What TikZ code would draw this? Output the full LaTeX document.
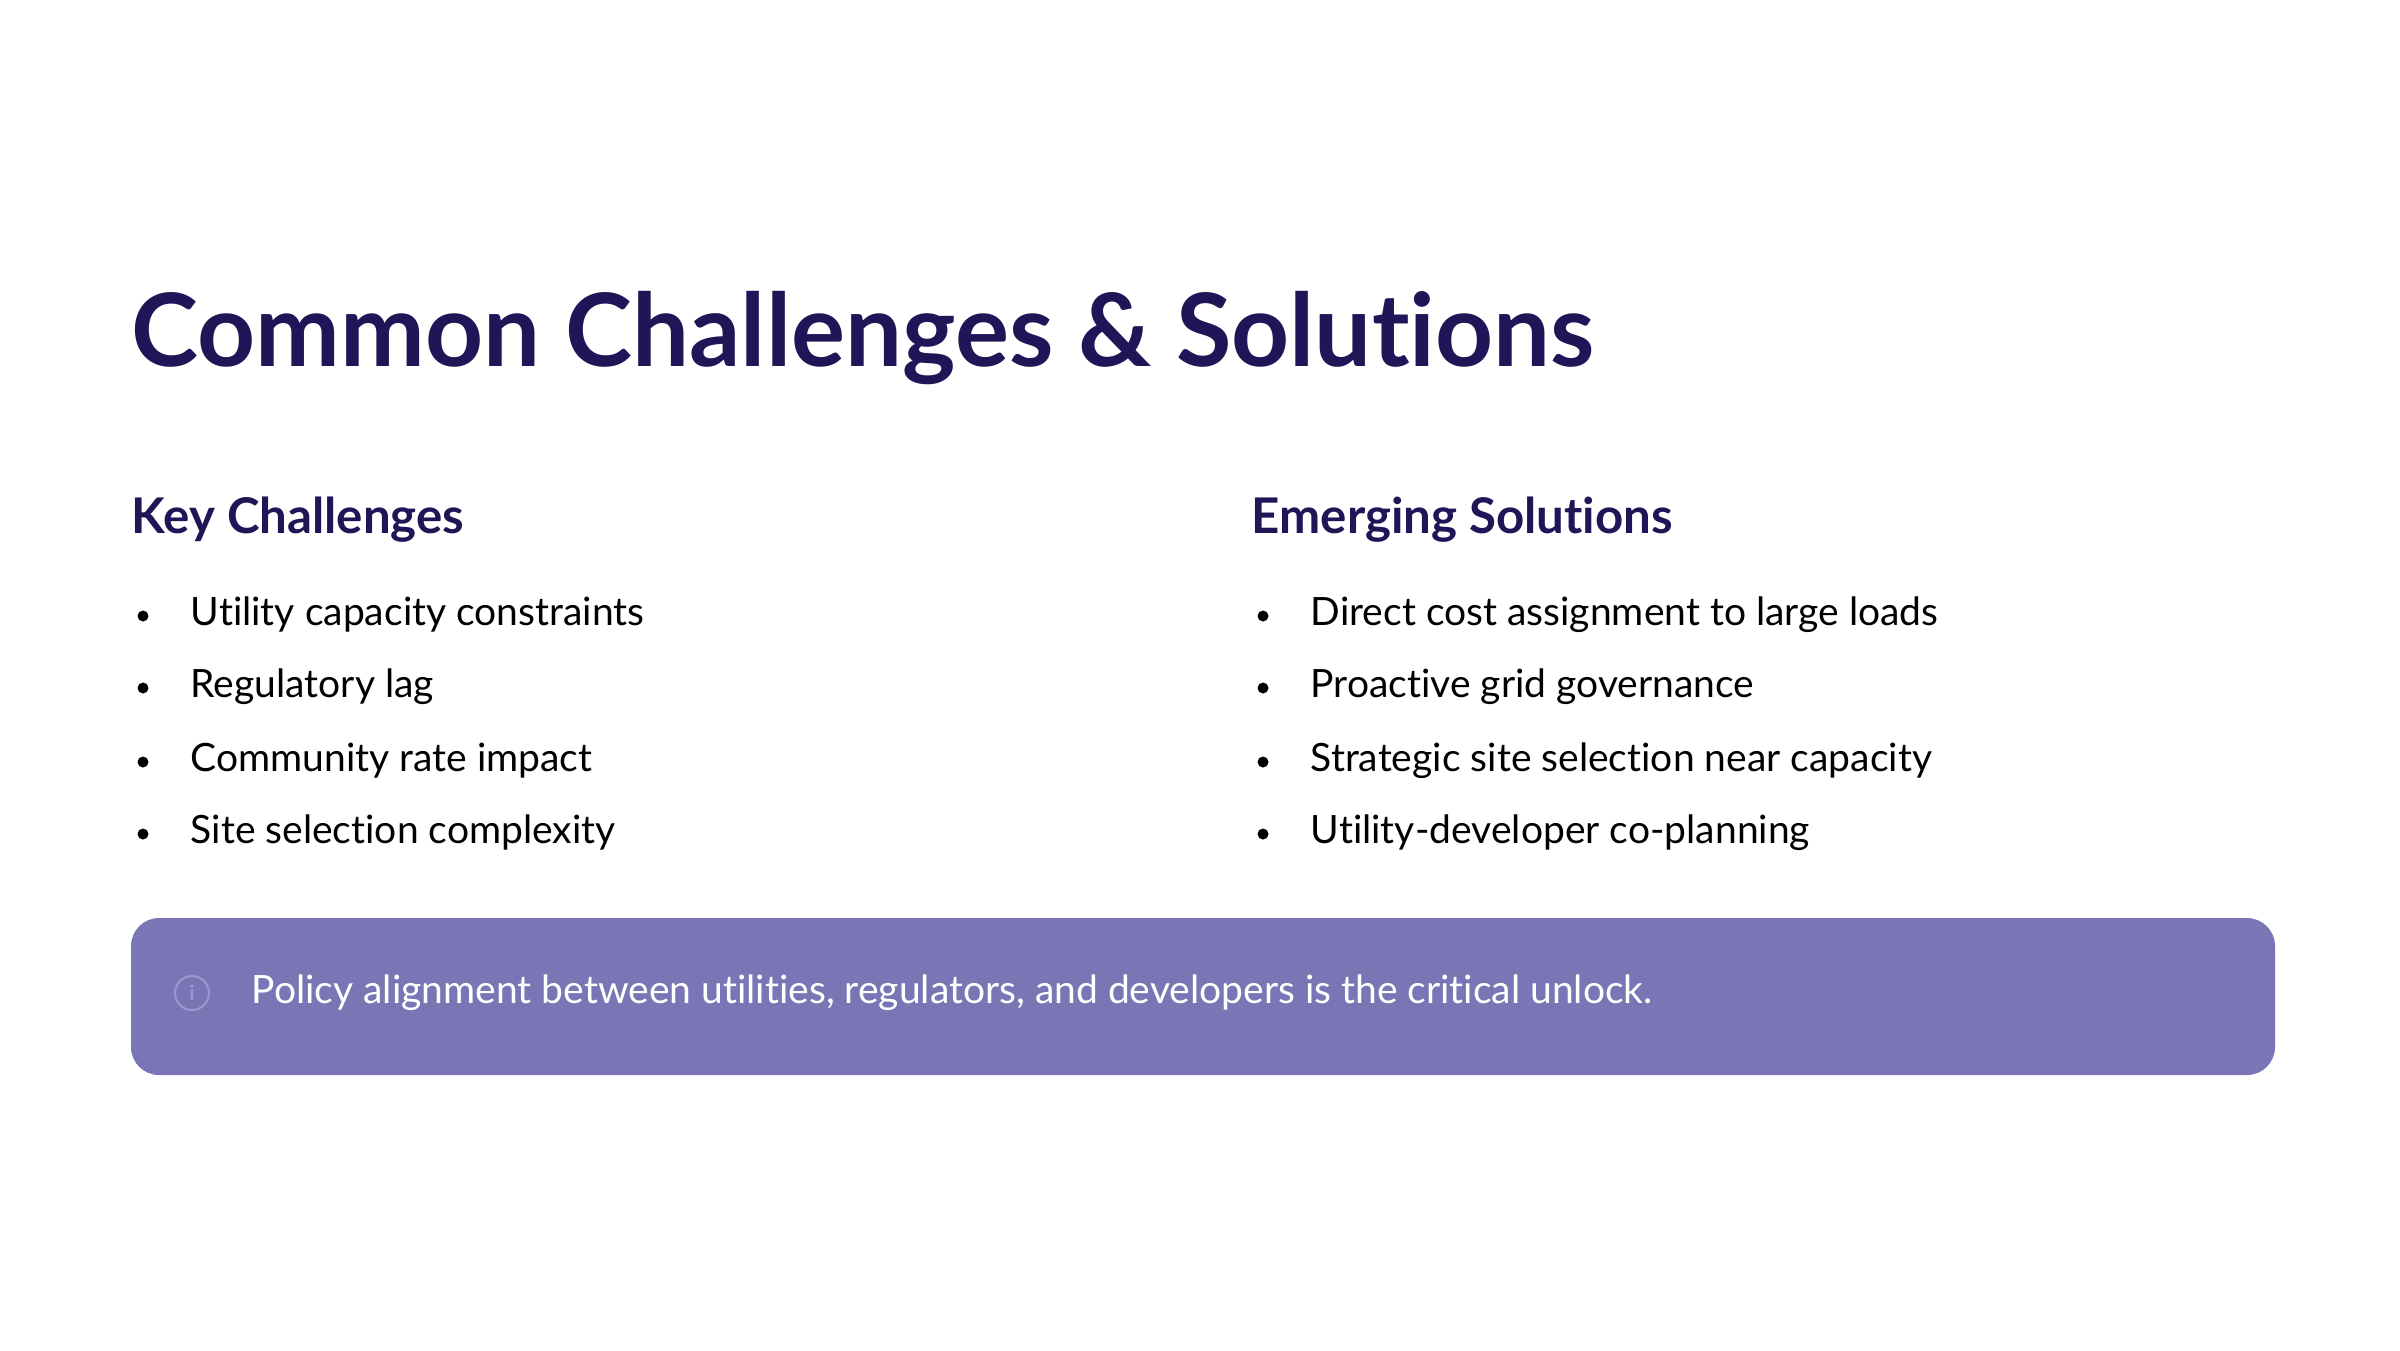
\documentclass[tikz,border=0pt]{standalone}
\usepackage{fontspec}
\setmainfont{Lato}[Ligatures=NoCommon]
\definecolor{navy}{HTML}{1E1656}
\definecolor{boxfill}{HTML}{7A76B5}
\definecolor{iconcol}{HTML}{9A97CC}
\begin{document}
\begin{tikzpicture}
  [every node/.style={inner sep=0pt,anchor=base west},
   heading/.style={font=\bfseries\fontsize{14}{16}\selectfont,text=navy},
   item/.style={font=\fontsize{11.1}{13}\selectfont,text=black}]
  \useasboundingbox (0,0) rectangle (24,-13.5);
  \node (title) [font=\bfseries\fontsize{28.8}{34}\selectfont,text=navy] at (1.31,-3.66) {Common Challenges \& Solutions};

  \node (kc) [heading] at (1.31,-5.33) {Key Challenges};
  \node (es) [heading] at (12.51,-5.33) {Emerging Solutions};

  \foreach \y/\txt [count=\i] in {-6.25/Utility capacity constraints,-6.97/Regulatory lag,-7.71/Community rate impact,-8.43/Site selection complexity}
  {
    \fill (1.43,\y+0.09) circle (0.055);
    \node (c\i) [item] at (1.9,\y) {\txt};
  }
  \foreach \y/\txt [count=\i] in {-6.25/Direct cost assignment to large loads,-6.97/Proactive grid governance,-7.71/Strategic site selection near capacity,-8.43/Utility-developer co-planning}
  {
    \fill (12.63,\y+0.09) circle (0.055);
    \node (s\i) [item] at (13.1,\y) {\txt};
  }

  \fill[boxfill,rounded corners=0.28cm] (1.31,-9.18) rectangle (22.75,-10.75);
  \node (icon) [circle,draw=iconcol,line width=0.6pt,minimum size=0.34cm,anchor=center,
    text=iconcol,font=\bfseries\fontsize{6}{6}\selectfont] at (1.92,-9.93) {i};
  \node (note) [item,text=white,anchor=west] at (2.51,-9.93) {Policy alignment between utilities, regulators, and developers is the critical unlock.};
\end{tikzpicture}
\end{document}
